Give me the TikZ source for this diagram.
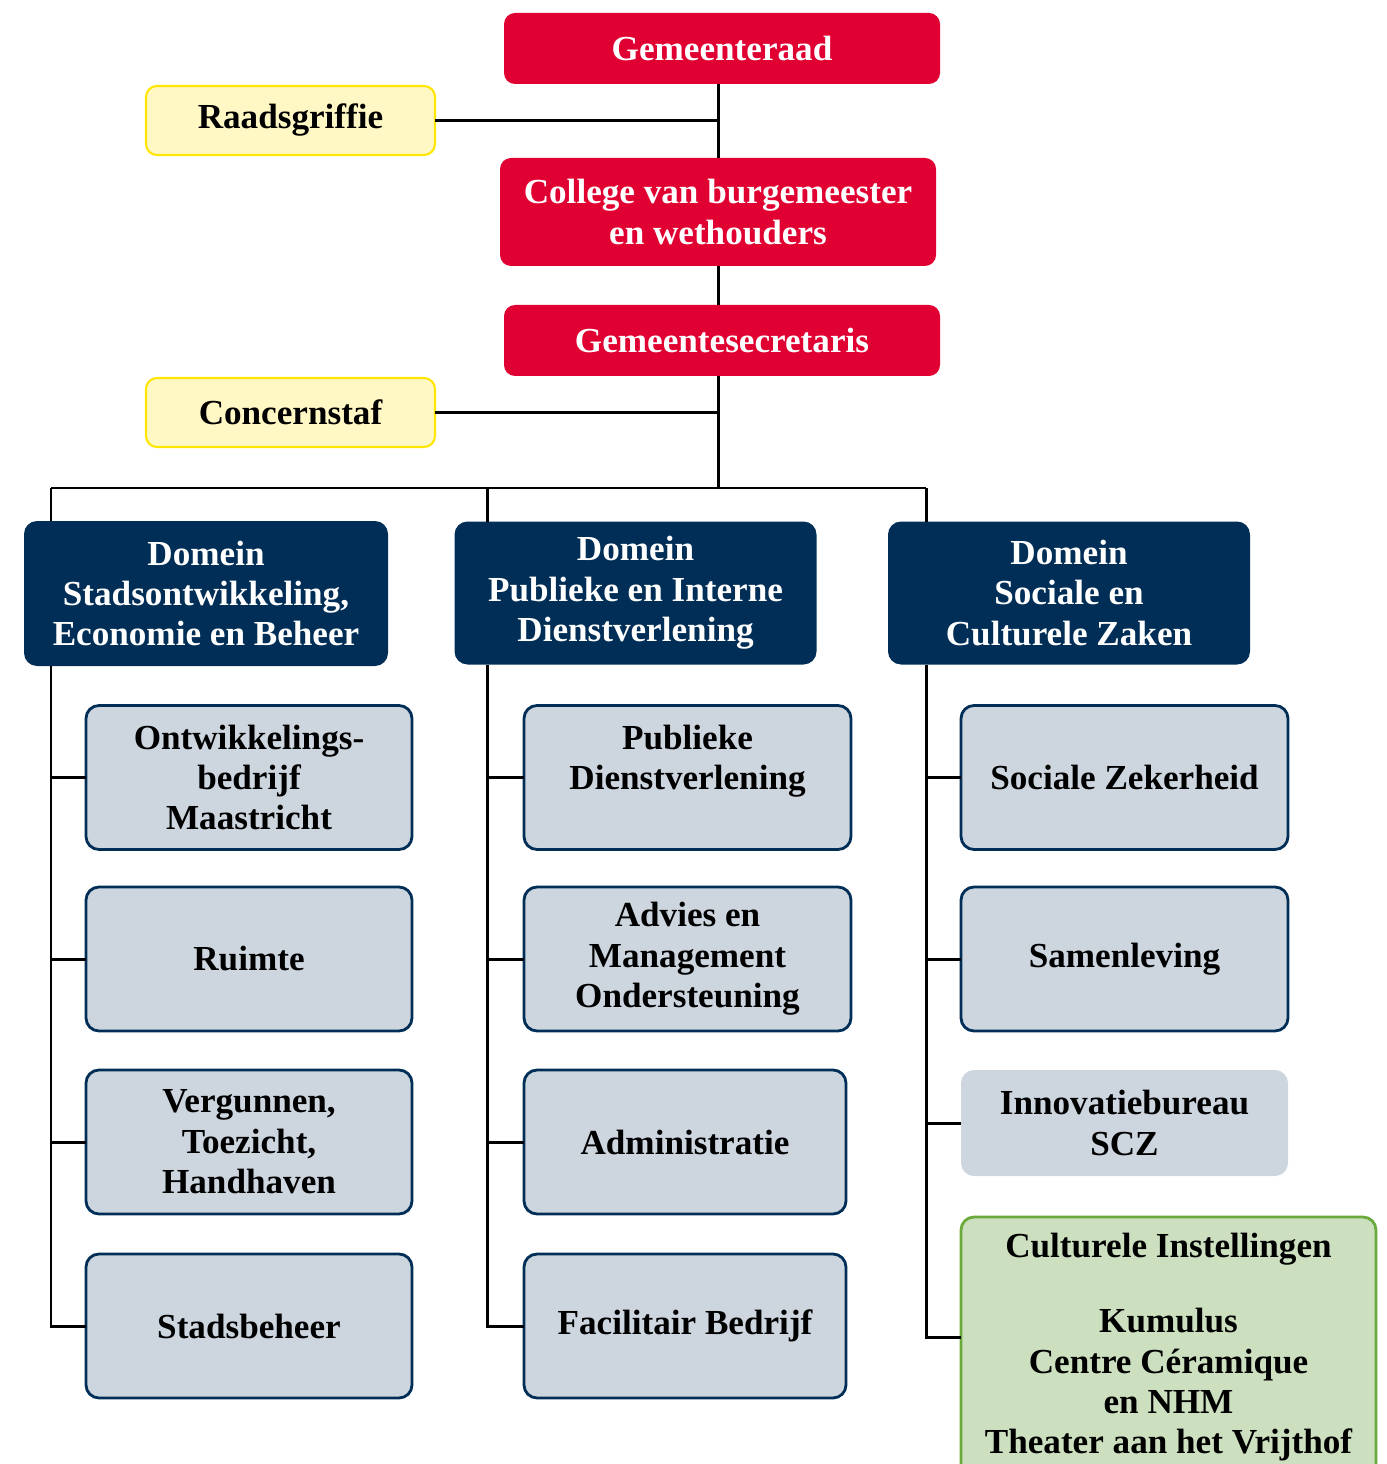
\documentclass[tikz,border=0pt]{standalone}
\usepackage{fontspec}
\setmainfont{Liberation Serif}
\usepackage{tikz}
\usetikzlibrary{positioning}
\definecolor{raadred}{RGB}{224,0,50}
\definecolor{domnavy}{RGB}{0,46,86}
\definecolor{afdgray}{RGB}{205,213,223}
\definecolor{staffill}{RGB}{255,248,196}
\definecolor{stafline}{RGB}{255,230,0}
\definecolor{cultfill}{RGB}{204,224,192}
\definecolor{cultline}{RGB}{106,170,60}
\tikzset{every node/.style={inner sep=0pt,outer sep=0pt,align=center,
    font=\fontsize{10}{11.5}\selectfont\bfseries}}

\begin{document}
\begin{tikzpicture}[
    redbox/.style={rectangle,rounded corners=0.11cm,fill=raadred,text=white,
      minimum width=4.36cm,minimum height=0.71cm},
    stafbox/.style={rectangle,rounded corners=0.11cm,fill=staffill,draw=stafline,
      line width=0.6pt,minimum width=2.89cm,minimum height=0.69cm},
    dombox/.style={rectangle,rounded corners=0.13cm,fill=domnavy,text=white,
      minimum width=3.62cm,minimum height=1.43cm},
    afdbox/.style={rectangle,rounded corners=0.13cm,fill=afdgray,draw=domnavy,
      line width=0.8pt,minimum width=3.26cm,minimum height=1.44cm},
    conn/.style={line width=0.85pt,black}]
\useasboundingbox (0,0) rectangle (13.86,-14.64);
\clip (0,0) rectangle (13.86,-14.64);
% bestuur
\node (raad) [redbox] at (7.22,-0.485) {Gemeenteraad};
\node (griffie) [stafbox] at (2.905,-1.205) {Raadsgriffie};
\node (college) [redbox,minimum height=1.08cm] at (7.18,-2.12) {College van burgemeester\\en wethouders};
\node (secr) [redbox] at (7.22,-3.405) {Gemeentesecretaris};
\node (staf) [stafbox] at (2.905,-4.125) {Concernstaf};
% domeinen
\node (d1) [dombox,minimum width=3.64cm,minimum height=1.45cm] at (2.06,-5.935) {Domein\\Stadsontwikkeling,\\Economie en Beheer};
\node (d2) [dombox] at (6.355,-5.93) {Domein\\Publieke en Interne\\Dienstverlening};
\node (d3) [dombox] at (10.69,-5.93) {Domein\\Sociale en\\Culturele Zaken};
% afdelingen
\node (o1) [afdbox] at (2.49,-7.775) {Ontwikkelings-\\bedrijf\\Maastricht};
\node (o2) [afdbox] at (2.49,-9.59) {Ruimte};
\node (o3) [afdbox] at (2.49,-11.42) {Vergunnen,\\Toezicht,\\Handhaven};
\node (o4) [afdbox] at (2.49,-13.26) {Stadsbeheer};
\node (p1) [afdbox,minimum width=3.27cm] at (6.875,-7.775) {Publieke\\Dienstverlening\\\mbox{}};
\node (p2) [afdbox,minimum width=3.27cm] at (6.875,-9.59) {Advies en\\Management\\Ondersteuning};
\node (p3) [afdbox,minimum width=3.22cm] at (6.85,-11.42) {Administratie};
\node (p4) [afdbox,minimum width=3.22cm] at (6.85,-13.26) {Facilitair Bedrijf};
\node (s1) [afdbox,minimum width=3.27cm] at (11.245,-7.775) {Sociale Zekerheid};
\node (s2) [afdbox,minimum width=3.27cm] at (11.245,-9.59) {Samenleving};
\node (s3) [afdbox,draw=none,minimum width=3.27cm,minimum height=1.06cm] at (11.245,-11.23) {Innovatiebureau\\SCZ};
\node (s4) [afdbox,fill=cultfill,draw=cultline,minimum width=4.15cm,minimum height=2.60cm] at (11.685,-13.47)
  {Culturele Instellingen\\[10pt]Kumulus\\Centre Céramique\\en NHM\\Theater aan het Vrijthof};
%
\coordinate (top) at (7.18,-4.88);
\coordinate (b1) at (0.51,-4.88);
\coordinate (b2) at (4.87,-4.88);
\coordinate (b3) at (9.26,-4.88);
\coordinate (k4) at (9.26,-13.37);
\draw[conn] (raad.south -| top) -- (college.north -| top);
\draw[conn] (college.south -| top) -- (secr.north -| top);
\draw[conn] (secr.south -| top) -- (top);
\draw[conn] (griffie) -- (griffie -| top);
\draw[conn] (staf) -- (staf -| top);
\draw[conn] (b1) -- (b3);
\draw[conn] (b1) -- (d1.north -| b1);
\draw[conn] (b2) -- (d2.north -| b2);
\draw[conn] (b3) -- (d3.north -| b3);
% takken
\draw[conn] (d1.south -| b1) -- (b1 |- o4.west) -- (o4.west);
\draw[conn] (d2.south -| b2) -- (b2 |- p4.west) -- (p4.west);
\draw[conn] (d3.south -| b3) -- (k4) -- (k4 -| s4.west);
\foreach \n in {o1,o2,o3} \draw[conn] (\n.west -| b1) -- (\n.west);
\foreach \n in {p1,p2,p3} \draw[conn] (\n.west -| b2) -- (\n.west);
\foreach \n in {s1,s2,s3} \draw[conn] (\n.west -| b3) -- (\n.west);
\end{tikzpicture}
\end{document}
